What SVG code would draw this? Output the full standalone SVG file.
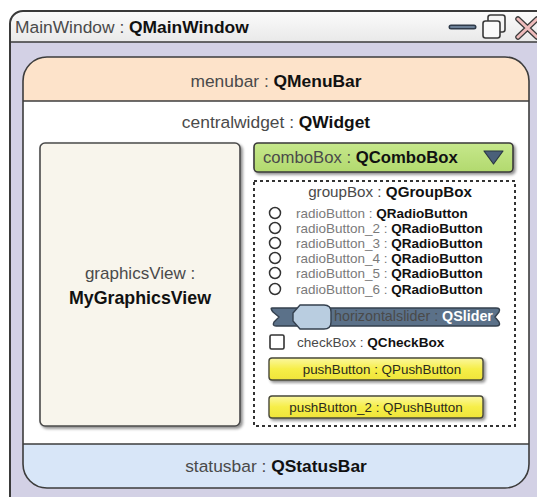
<svg xmlns="http://www.w3.org/2000/svg" width="537" height="497" viewBox="0 0 537 497">
  <style>
    text { font-family: "Liberation Sans", Arial, sans-serif; fill: #4a4a4a; }
    .b { font-weight: bold; fill: #111; }
    .edge { stroke: #3c3c3c; stroke-width: 1.6; }
    .radio { fill: #fff; stroke: #333; stroke-width: 1.5; }
    .btn { fill: url(#yellow); stroke: #4a4a3a; stroke-width: 1.4; }
    .btntxt { font-size: 13.4px; fill: #2a2a20; text-anchor: middle; }
    .rb { font-size: 13.5px; fill: #7a7a7a; }
    .rb .b { fill: #111; }
    .big { font-size: 17.4px; }
  </style>
  <defs>
    <linearGradient id="title" x1="0" y1="0" x2="0" y2="1">
      <stop offset="0" stop-color="#fbfbfb"/>
      <stop offset="1" stop-color="#e9e9e9"/>
    </linearGradient>
    <linearGradient id="yellow" x1="0" y1="0" x2="0" y2="1">
      <stop offset="0" stop-color="#fbf7a0"/>
      <stop offset="0.5" stop-color="#f6ee48"/>
      <stop offset="1" stop-color="#efe43a"/>
    </linearGradient>
    <linearGradient id="green" x1="0" y1="0" x2="0" y2="1">
      <stop offset="0" stop-color="#c6e88c"/>
      <stop offset="1" stop-color="#b2d96e"/>
    </linearGradient>
    <filter id="shadow" x="-10%" y="-10%" width="130%" height="130%">
      <feGaussianBlur in="SourceAlpha" stdDeviation="1.5"/>
      <feOffset dx="1.5" dy="2" result="o"/>
      <feComponentTransfer><feFuncA type="linear" slope="0.45"/></feComponentTransfer>
      <feMerge><feMergeNode/><feMergeNode in="SourceGraphic"/></feMerge>
    </filter>
  </defs>

  <!-- main window frame -->
  <g id="mainWindow">
    <path d="M10,497 V24 A13,13 0 0 1 23,11 H537 V497 Z" fill="#d3d1e5"/>
    <path d="M10,42 V24 A13,13 0 0 1 23,11 H537 V42 Z" fill="url(#title)"/>
    <path d="M10,497 V24 A13,13 0 0 1 23,11 H537" fill="none" stroke="#3a3a3a" stroke-width="2"/>
    <line x1="10" y1="42" x2="537" y2="42" stroke="#3a3a3a" stroke-width="1.6"/>
    <text x="15" y="33" class="big">MainWindow : <tspan class="b">QMainWindow</tspan></text>
    <!-- minimize -->
    <line x1="451" y1="27" x2="474" y2="27" stroke="#2f3b4a" stroke-width="5" stroke-linecap="round"/>
    <line x1="451" y1="27" x2="474" y2="27" stroke="#6b7f96" stroke-width="2" stroke-linecap="round"/>
    <!-- restore -->
    <rect x="488" y="15" width="17" height="17" rx="2.5" fill="#f4f4f4" stroke="#3a3a3a" stroke-width="1.6"/>
    <rect x="483" y="21" width="17" height="17" rx="2.5" fill="#fafafa" stroke="#3a3a3a" stroke-width="1.6"/>
    <!-- close -->
    <path d="M518,19 L537,37 M537,19 L518,37" stroke="#3a3a3a" stroke-width="5.5" stroke-linecap="round"/>
    <path d="M518,19 L537,37 M537,19 L518,37" stroke="#efbcbc" stroke-width="3" stroke-linecap="round"/>
  </g>

  <!-- central area with menubar and statusbar -->
  <g id="centralwidget">
    <rect x="23" y="57" width="506" height="431" rx="24" fill="#ffffff"/>
    <text x="276" y="128" class="big" text-anchor="middle">centralwidget : <tspan class="b">QWidget</tspan></text>
  </g>
  <g id="menubar">
    <path d="M23,101 V81 A24,24 0 0 1 47,57 H505 A24,24 0 0 1 529,81 V101 Z" fill="#fde3ca"/>
    <line x1="23" y1="101" x2="529" y2="101" class="edge"/>
    <text x="276" y="87" class="big" text-anchor="middle">menubar : <tspan class="b">QMenuBar</tspan></text>
  </g>
  <g id="statusbar">
    <path d="M23,444 V464 A24,24 0 0 0 47,488 H505 A24,24 0 0 0 529,464 V444 Z" fill="#d8e6f8"/>
    <line x1="23" y1="444" x2="529" y2="444" class="edge"/>
    <text x="276" y="472" class="big" text-anchor="middle">statusbar : <tspan class="b">QStatusBar</tspan></text>
  </g>
  <rect x="23" y="57" width="506" height="431" rx="24" fill="none" class="edge"/>

  <!-- graphics view -->
  <g id="graphicsView">
    <rect x="40" y="143" width="200" height="283" rx="5" fill="#f8f5ec" stroke="#4a4a4a" stroke-width="1.6" filter="url(#shadow)"/>
    <text x="140" y="279" font-size="17" text-anchor="middle">graphicsView :</text>
    <text x="140" y="304" font-size="17.8" text-anchor="middle" class="b">MyGraphicsView</text>
  </g>

  <!-- combo box -->
  <g id="comboBox">
    <rect x="254" y="143" width="259" height="29" rx="4" fill="url(#green)" stroke="#3a3a3a" stroke-width="1.6" filter="url(#shadow)"/>
    <text x="263" y="163" font-size="16.7">comboBox : <tspan class="b">QComboBox</tspan></text>
    <path d="M484,151 H503 L493.5,164 Z" fill="#4a6079" stroke="#2b3644" stroke-width="1.2" stroke-linejoin="round"/>
  </g>

  <!-- group box -->
  <g id="groupBox">
    <rect x="254" y="181" width="261" height="245" fill="#ffffff" stroke="#333" stroke-width="2" stroke-dasharray="3 3"/>
    <text x="390" y="197" font-size="15.2" text-anchor="middle" fill="#666">groupBox : <tspan class="b">QGroupBox</tspan></text>
  </g>

  <!-- radio buttons -->
  <g id="radioButton">
    <circle cx="275" cy="213" r="5.5" class="radio"/>
    <text x="296" y="218" class="rb">radioButton : <tspan class="b">QRadioButton</tspan></text>
  </g>
  <g id="radioButton_2">
    <circle cx="275" cy="228" r="5.5" class="radio"/>
    <text x="296" y="233" class="rb">radioButton_2 : <tspan class="b">QRadioButton</tspan></text>
  </g>
  <g id="radioButton_3">
    <circle cx="275" cy="243" r="5.5" class="radio"/>
    <text x="296" y="248" class="rb">radioButton_3 : <tspan class="b">QRadioButton</tspan></text>
  </g>
  <g id="radioButton_4">
    <circle cx="275" cy="258" r="5.5" class="radio"/>
    <text x="296" y="263" class="rb">radioButton_4 : <tspan class="b">QRadioButton</tspan></text>
  </g>
  <g id="radioButton_5">
    <circle cx="275" cy="273" r="5.5" class="radio"/>
    <text x="296" y="278" class="rb">radioButton_5 : <tspan class="b">QRadioButton</tspan></text>
  </g>
  <g id="radioButton_6">
    <circle cx="275" cy="289" r="5.5" class="radio"/>
    <text x="296" y="294" class="rb">radioButton_6 : <tspan class="b">QRadioButton</tspan></text>
  </g>

  <!-- horizontal slider -->
  <g id="horizontalSlider">
    <path d="M272,308 H496 Q501,308 499,312 L495,317 L499,322 Q501,326 496,326 H276 Q272,326 274,322 L279,317 L273,312 Q270,308 272,308 Z" fill="#5b7189" stroke="#34404e" stroke-width="1.4" stroke-linejoin="round"/>
    <path d="M300,305 H324 Q331,305 331,312 V322 Q331,329 324,329 H300 L293,321 V313 Z" fill="#b9cde0" stroke="#34404e" stroke-width="1.4" stroke-linejoin="round"/>
    <text x="334" y="321" font-size="14.3" fill="#eef2f6">horizontalslider : <tspan font-weight="bold" fill="#ffffff">QSlider</tspan></text>
  </g>

  <!-- check box -->
  <g id="checkBox">
    <rect x="270" y="335" width="14" height="14" rx="1.5" fill="#fff" stroke="#333" stroke-width="1.6"/>
    <text x="297" y="347" font-size="13.6" fill="#777">checkBox : <tspan class="b">QCheckBox</tspan></text>
  </g>

  <!-- push buttons -->
  <g id="pushButton">
    <rect x="269" y="358" width="214" height="22" rx="3" class="btn" filter="url(#shadow)"/>
    <text x="382" y="373.5" class="btntxt">pushButton : QPushButton</text>
  </g>
  <g id="pushButton_2">
    <rect x="269" y="396" width="214" height="22" rx="3" class="btn" filter="url(#shadow)"/>
    <text x="376" y="411.5" class="btntxt">pushButton_2 : QPushButton</text>
  </g>

  <g id="connectors"/>
</svg>
